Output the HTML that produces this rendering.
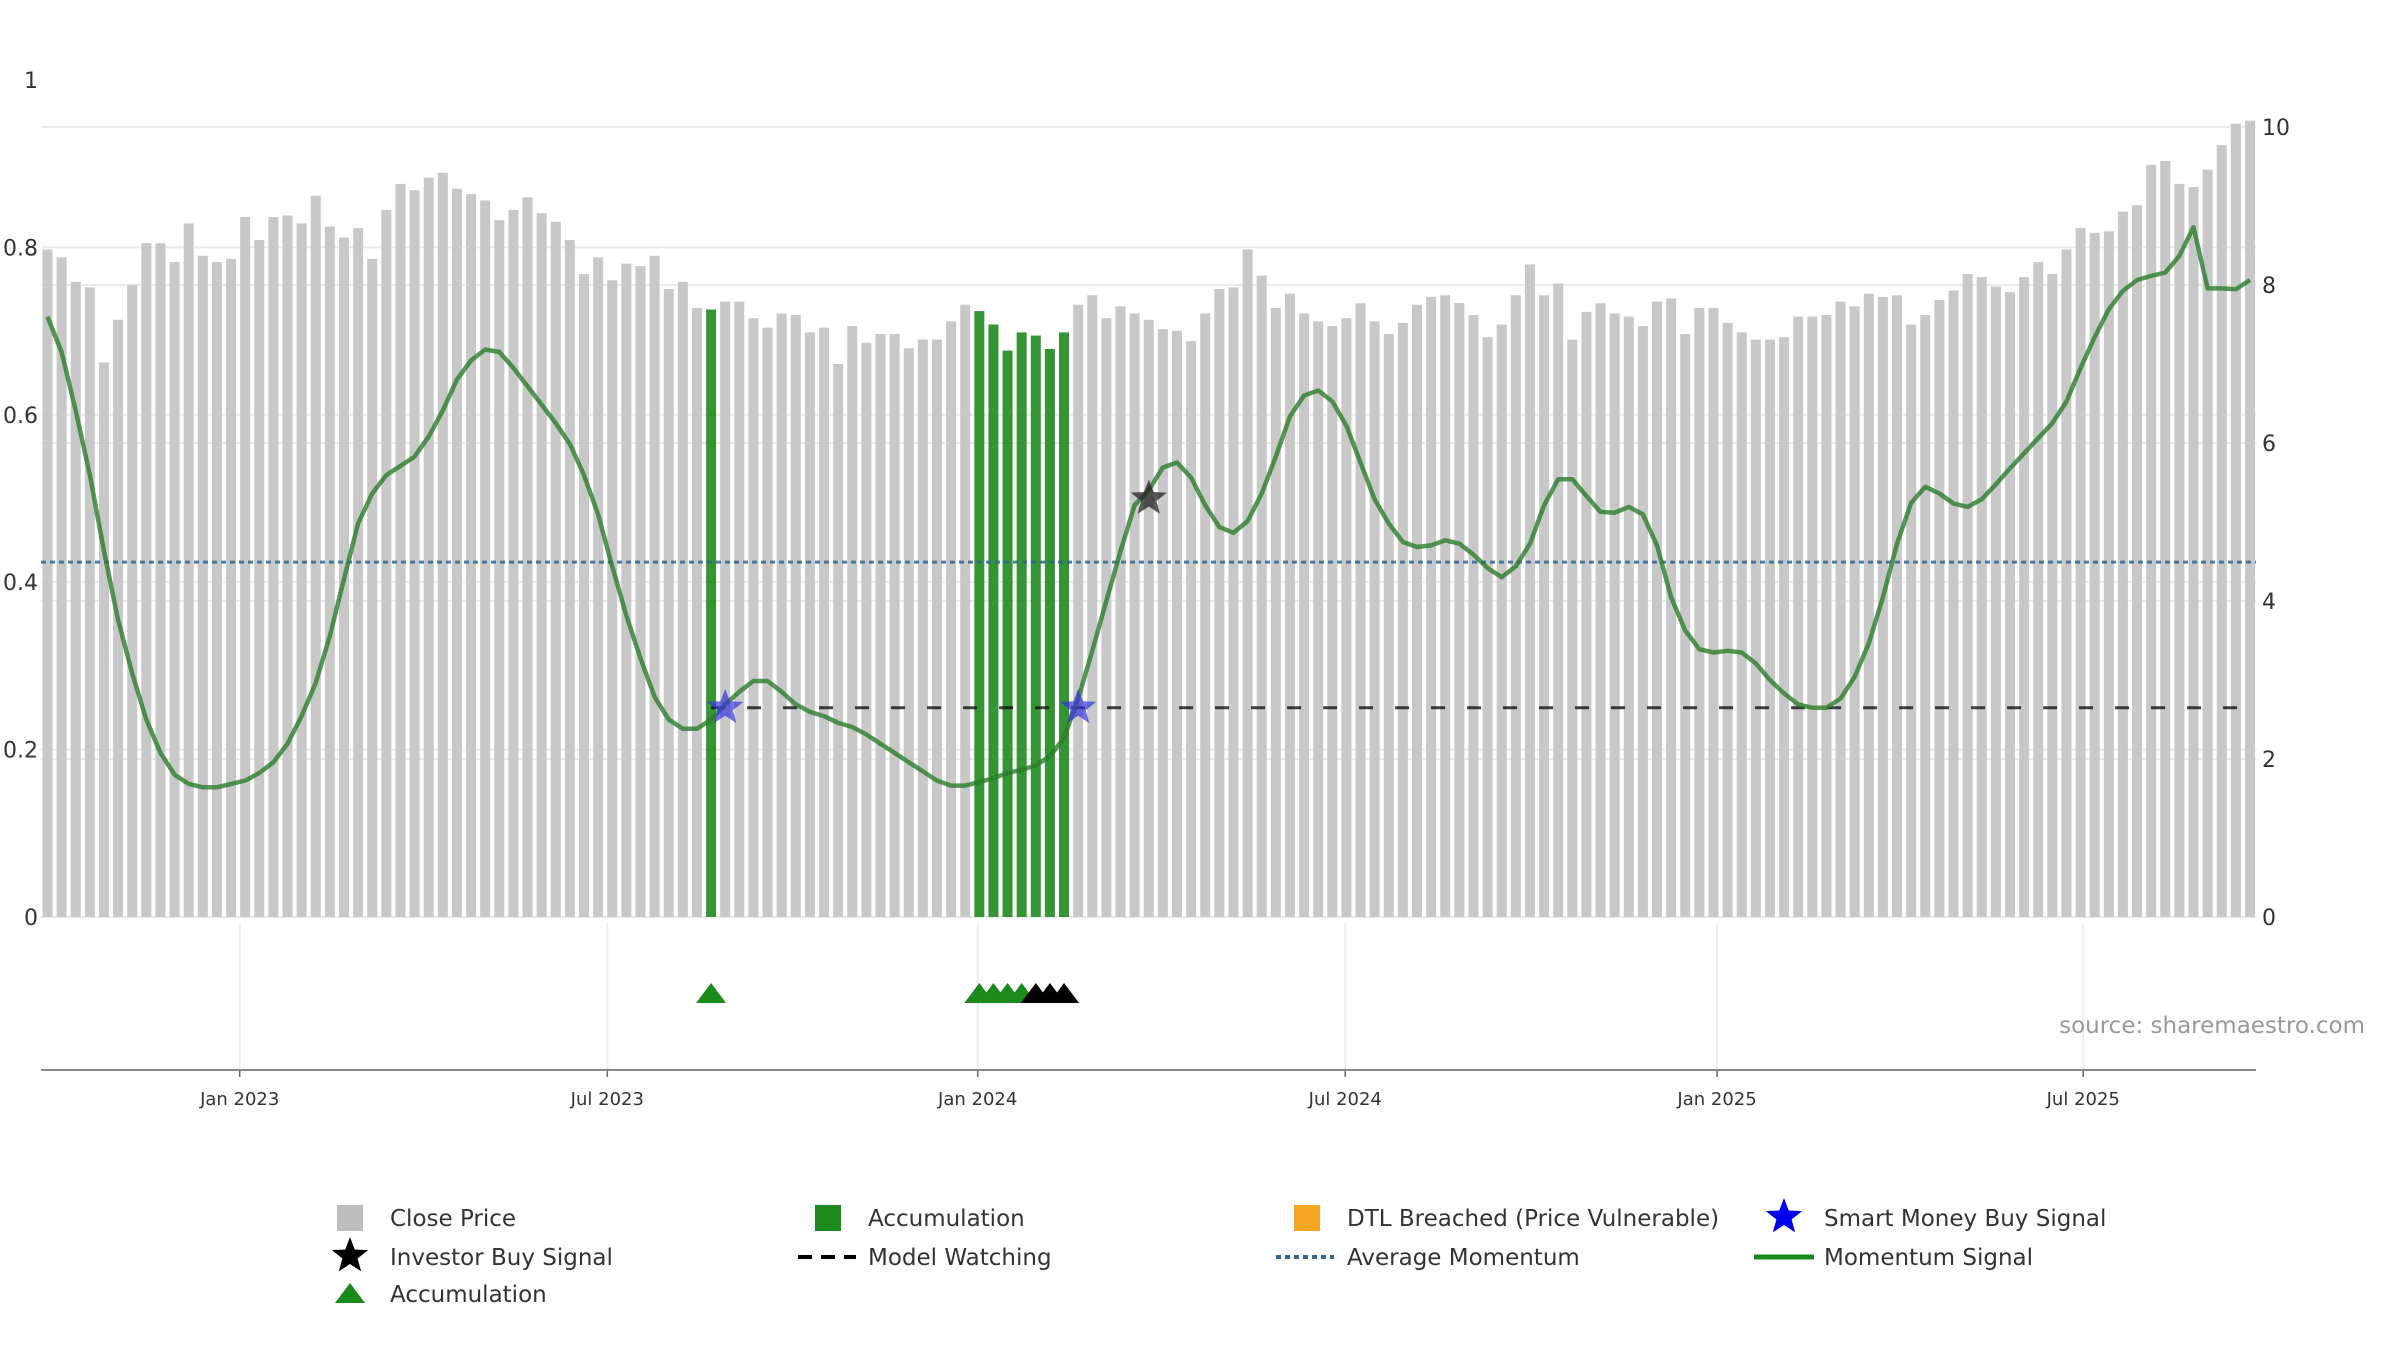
<!DOCTYPE html>
<html><head><meta charset="utf-8"><style>
html,body{margin:0;padding:0;background:#fff;}
svg{display:block;font-family:"DejaVu Sans","Liberation Sans",sans-serif;}
</style></head><body>
<svg id="chart" width="2400" height="1350" viewBox="0 0 2400 1350" xmlns="http://www.w3.org/2000/svg">
<g id="grid"></g>
<g id="bars"></g>
<g id="lines"></g>
<g id="markers"></g>
<g id="axes"></g>
<text x="2365" y="1033" text-anchor="end" font-size="23" fill="#999">source: sharemaestro.com</text>
<g id="legend" font-size="23" fill="#333">
 <g><rect x="337" y="1205" width="26" height="26" fill="#bdbdbd"/><text x="390" y="1226">Close Price</text></g>
 <g><rect x="815" y="1205" width="26" height="26" fill="#1f8a1f"/><text x="868" y="1226">Accumulation</text></g>
 <g><rect x="1294" y="1205" width="26" height="26" fill="#f5a623"/><text x="1347" y="1226">DTL Breached (Price Vulnerable)</text></g>
 <g><polygon id="lgstar1" fill="#0000ee"/><text x="1824" y="1226">Smart Money Buy Signal</text></g>
 <g><polygon id="lgstar2" fill="#000"/><text x="390" y="1265">Investor Buy Signal</text></g>
 <g><line x1="798" y1="1257" x2="856" y2="1257" stroke="#000" stroke-width="4" stroke-dasharray="14,9"/><text x="868" y="1265">Model Watching</text></g>
 <g><line x1="1276" y1="1257" x2="1334" y2="1257" stroke="#2f6690" stroke-width="4" stroke-dasharray="5,4"/><text x="1347" y="1265">Average Momentum</text></g>
 <g><line x1="1754" y1="1257" x2="1814" y2="1257" stroke="#1a8a1a" stroke-width="5"/><text x="1824" y="1265">Momentum Signal</text></g>
 <g><polygon points="335,1303 350,1283 365,1303" fill="#1a8a1a"/><text x="390" y="1302">Accumulation</text></g>
</g>
</svg>
<script>
const closePrice=[8.45,8.35,8.04,7.97,7.02,7.56,8.0,8.53,8.53,8.29,8.78,8.37,8.29,8.33,8.86,8.57,8.86,8.88,8.78,9.13,8.74,8.6,8.72,8.33,8.95,9.28,9.2,9.36,9.42,9.22,9.15,9.07,8.82,8.95,9.11,8.91,8.8,8.57,8.14,8.35,8.06,8.27,8.24,8.37,7.95,8.04,7.71,7.69,7.79,7.79,7.58,7.46,7.64,7.62,7.4,7.46,7.0,7.48,7.27,7.38,7.38,7.2,7.31,7.31,7.54,7.75,7.67,7.5,7.17,7.4,7.36,7.19,7.4,7.75,7.87,7.58,7.73,7.64,7.56,7.44,7.42,7.29,7.64,7.95,7.97,8.45,8.12,7.71,7.89,7.64,7.54,7.48,7.58,7.77,7.54,7.38,7.52,7.75,7.85,7.87,7.77,7.62,7.34,7.5,7.87,8.26,7.87,8.02,7.31,7.66,7.77,7.64,7.6,7.48,7.79,7.83,7.38,7.71,7.71,7.52,7.4,7.31,7.31,7.34,7.6,7.6,7.62,7.79,7.73,7.89,7.85,7.87,7.5,7.62,7.81,7.93,8.14,8.1,7.98,7.91,8.1,8.29,8.14,8.45,8.72,8.66,8.68,8.93,9.01,9.52,9.57,9.28,9.24,9.46,9.77,10.04,10.08];
const momentum=[0.717,0.675,0.605,0.528,0.437,0.355,0.291,0.236,0.196,0.170,0.159,0.155,0.155,0.159,0.163,0.172,0.185,0.207,0.240,0.280,0.336,0.404,0.470,0.506,0.528,0.539,0.550,0.574,0.605,0.642,0.665,0.678,0.675,0.656,0.634,0.612,0.590,0.565,0.528,0.481,0.419,0.360,0.309,0.263,0.236,0.225,0.225,0.236,0.254,0.269,0.282,0.282,0.269,0.254,0.245,0.240,0.232,0.227,0.218,0.207,0.196,0.185,0.174,0.163,0.157,0.157,0.161,0.166,0.172,0.176,0.181,0.192,0.214,0.261,0.318,0.378,0.437,0.492,0.510,0.537,0.543,0.525,0.492,0.466,0.459,0.473,0.506,0.550,0.598,0.623,0.629,0.616,0.587,0.543,0.499,0.470,0.448,0.442,0.444,0.450,0.446,0.433,0.417,0.406,0.419,0.446,0.492,0.523,0.523,0.503,0.484,0.483,0.490,0.481,0.444,0.382,0.342,0.320,0.316,0.318,0.316,0.303,0.283,0.267,0.254,0.250,0.250,0.261,0.287,0.327,0.382,0.446,0.495,0.514,0.506,0.494,0.490,0.499,0.517,0.536,0.554,0.572,0.590,0.616,0.656,0.693,0.726,0.748,0.761,0.766,0.770,0.790,0.824,0.751,0.751,0.750,0.761];
const accumBars=[47,66,67,68,69,70,71,72];
const accumTriangles=[47,66,67,68,69];
const investorTriangles=[70,71,72];
const smartMoneyIdx=[48,73];
const smartMoneyVal=[0.25,0.25];
const investorIdx=[78];
const investorVal=[0.5];
const avgMomentum=0.424;
const watchStart=47;
const watchValue=0.25;
const leftTicks=[0,0.2,0.4,0.6,0.8,1];
const leftTickLabels=["0","0.2","0.4","0.6","0.8","1"];
const rightTicks=[0,2,4,6,8,10];
const dateTickIdx=[13.7,39.9,66.3,92.5,119,145.1];
const dateTickLabels=["Jan 2023","Jul 2023","Jan 2024","Jul 2024","Jan 2025","Jul 2025"];

const NS="http://www.w3.org/2000/svg";
const X0=47.5,XLAST=2250,Y0=917,PL=41,PR=2256;
const STEP=(XLAST-X0)/(closePrice.length-1);
const DSTEP=14.03;
const xs=i=>X0+i*STEP;
const xd=d=>X0+d*DSTEP;
const yl=v=>Y0-v*837;
const yr=v=>Y0-v*79;
function mk(tag,attrs,parent){const e=document.createElementNS(NS,tag);for(const k in attrs)e.setAttribute(k,attrs[k]);parent.appendChild(e);return e;}
function starPts(cx,cy,R,r){let p=[];for(let k=0;k<10;k++){const a=-Math.PI/2+k*Math.PI/5,rad=k%2?r:R;p.push((cx+rad*Math.cos(a)).toFixed(1)+","+(cy+rad*Math.sin(a)).toFixed(1));}return p.join(" ");}
const G=document.getElementById('grid'),B=document.getElementById('bars'),L=document.getElementById('lines'),M=document.getElementById('markers'),A=document.getElementById('axes');

leftTicks.forEach((v,i)=>{
 if(v<1){const g=mk('line',{x1:PL,x2:PR,y1:yl(v),y2:yl(v),stroke:'#eaeaea','stroke-width':2},G);
 
 }
 const t=mk('text',{x:38,y:yl(v)+8,'text-anchor':'end','font-size':22,fill:'#333'},A);t.textContent=leftTickLabels[i];
 
 
});
rightTicks.forEach(v=>{
 const g=mk('line',{x1:PL,x2:PR,y1:yr(v),y2:yr(v),stroke:'#eaeaea','stroke-width':2},G);
 
 
 const t=mk('text',{x:2262,y:yr(v)+8,'font-size':22,fill:'#333'},A);t.textContent=String(v);
 
 
});
dateTickIdx.forEach((d,i)=>{
 const x=xd(d);
 const g=mk('line',{x1:x,x2:x,y1:923,y2:1070,stroke:'#eeeeee','stroke-width':2},G);
 
 
 mk('line',{x1:x,x2:x,y1:1070,y2:1077,stroke:'#666','stroke-width':1.5},A);
 const t=mk('text',{x:x,y:1105,'text-anchor':'middle','font-size':18,fill:'#333'},A);t.textContent=dateTickLabels[i];
 
 
});
const ax=mk('line',{x1:PL,x2:PR,y1:1070,y2:1070,stroke:'#888','stroke-width':2},A);



closePrice.forEach((v,i)=>{
 const acc=accumBars.includes(i);
 const r=mk('rect',{x:xs(i)-5,y:yr(v),width:10,height:Y0-yr(v),fill:acc?'#1f8a1f':'#c8c8c8','fill-opacity':acc?0.9:1},B);
 
 
});

const avg=mk('line',{x1:PL,x2:PR,y1:yl(avgMomentum),y2:yl(avgMomentum),stroke:'#2f6690','stroke-width':3,'stroke-dasharray':'5,4','stroke-opacity':0.85},L);


const w=mk('line',{x1:xs(watchStart),x2:xs(closePrice.length-1),y1:yl(watchValue),y2:yl(watchValue),stroke:'#111','stroke-width':3,'stroke-dasharray':'14,22','stroke-opacity':0.8},L);


const pts=momentum.map((v,i)=>xs(i).toFixed(1)+","+yl(v).toFixed(1)).join(" ");
const ml=mk('polyline',{points:pts,fill:'none',stroke:'#2a7d2a','stroke-width':4.5,'stroke-opacity':0.8,'stroke-linejoin':'round'},L);



smartMoneyIdx.forEach((d,i)=>{
 const s=mk('polygon',{points:starPts(xs(d),yl(smartMoneyVal[i]),19,8),fill:'#3333dd','fill-opacity':0.7},M);
 
 
});
investorIdx.forEach((d,i)=>{
 const s=mk('polygon',{points:starPts(xs(d),yl(investorVal[i]),19,8),fill:'#222','fill-opacity':0.75},M);
 
 
});
function tri(d,col,name){const x=xs(d);const t=mk('polygon',{points:`${x-15},1003 ${x},983 ${x+15},1003`,fill:col},M);
 
 }
accumTriangles.forEach(d=>tri(d,'#1a8a1a','accumulation-triangle'));
investorTriangles.forEach(d=>tri(d,'#000','investor-triangle'));
document.getElementById('lgstar1').setAttribute('points',starPts(1784,1217,19,8));
document.getElementById('lgstar2').setAttribute('points',starPts(350,1256,19,8));
</script>
</body></html>
